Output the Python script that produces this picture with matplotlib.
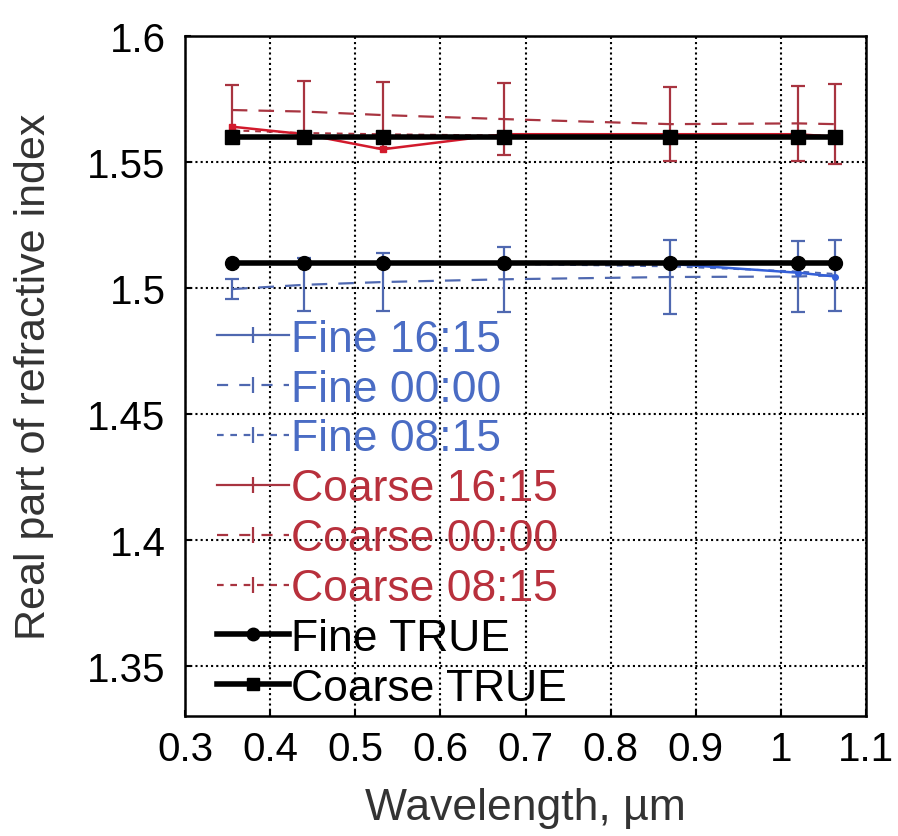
import numpy as np
import matplotlib
matplotlib.use("Agg")
import matplotlib.pyplot as plt
from matplotlib.lines import Line2D

plt.rcParams['font.family'] = ['Liberation Sans', 'DejaVu Sans']

# wavelengths (um)
wl = [0.355, 0.440, 0.532, 0.675, 0.870, 1.020, 1.064]

# fine mode
fine_true = [1.51, 1.51, 1.51, 1.51, 1.51, 1.51, 1.51]
fine_1615 = [1.510, 1.510, 1.510, 1.510, 1.5095, 1.506, 1.5045]
fine_0000 = [1.4995, 1.5012, 1.5023, 1.5034, 1.5043, 1.5045, 1.505]
fine_0815 = [1.5095, 1.5095, 1.5095, 1.5095, 1.5085, 1.5065, 1.5055]
fine_err = [0.004, 0.0105, 0.0115, 0.013, 0.0145, 0.014, 0.014]

# coarse mode
coarse_true = [1.56, 1.56, 1.56, 1.56, 1.56, 1.56, 1.56]
coarse_1615 = [1.564, 1.561, 1.555, 1.561, 1.561, 1.561, 1.560]
coarse_0000 = [1.5706, 1.570, 1.5686, 1.567, 1.565, 1.5653, 1.565]
coarse_0815 = [1.5625, 1.5615, 1.561, 1.5605, 1.5605, 1.5605, 1.5605]
coarse_err = [0.010, 0.012, 0.013, 0.0143, 0.0146, 0.015, 0.016]

labels = ['Fine 16:15', 'Fine 00:00', 'Fine 08:15',
          'Coarse 16:15', 'Coarse 00:00', 'Coarse 08:15',
          'Fine TRUE', 'Coarse TRUE']

blue = '#4f68b0'
blue_txt = '#4a6cc4'
blue_hi = '#3560d8'
red = '#a83440'
red_txt = '#b8303c'
red_hi = '#d21a2c'

fig = plt.figure(figsize=(8.98, 8.37), dpi=100)
ax = fig.add_axes([0.206, 0.1434, 0.7585, 0.8124])

# coloured retrievals
ax.errorbar(wl, coarse_0000, yerr=coarse_err, color=red, lw=1.6,
            dashes=(7, 5), capsize=5, elinewidth=1.6, capthick=1.6, zorder=2)
ax.plot(wl, coarse_0815, color=red, lw=1.4, dashes=(3, 3), zorder=2)
ax.plot(wl, coarse_1615, color=red_hi, lw=1.8, marker='s', ms=4, zorder=3)

ax.errorbar(wl, fine_0000, yerr=fine_err, color=blue, lw=1.6,
            dashes=(7, 5), capsize=5, elinewidth=1.6, capthick=1.6, zorder=2)
ax.plot(wl, fine_0815, color=blue, lw=1.4, dashes=(3, 3), zorder=2)
ax.plot(wl, fine_1615, color=blue_hi, lw=1.8, marker='o', ms=4, zorder=3)

# true values
ax.plot(wl, fine_true, color='black', lw=4, marker='o', ms=10, zorder=4)
ax.plot(wl, coarse_true, color='black', lw=4, marker='s', ms=10, zorder=4)

ax.set_xlim(0.3, 1.1)
ax.set_ylim(1.33, 1.6)
ax.set_xticks(np.arange(0.3, 1.101, 0.1))
ax.set_xticklabels(['0.3', '0.4', '0.5', '0.6', '0.7', '0.8', '0.9', '1', '1.1'])
ax.set_yticks([1.35, 1.4, 1.45, 1.5, 1.55, 1.6])
ax.set_yticklabels(['1.35', '1.4', '1.45', '1.5', '1.55', '1.6'])
ax.tick_params(labelsize=29, direction='in', length=4, width=1.5)
ax.tick_params(axis='y', pad=14)
ax.tick_params(axis='x', pad=10)
ax.grid(True, color='black', ls=(0, (1, 1.5)), lw=1.5)
for s in ax.spines.values():
    s.set_linewidth(1.8)

ax.set_xlabel('Wavelength, \u00b5m', fontsize=32, color='#333333', labelpad=14)
ax.set_ylabel('Real part of refractive index', fontsize=31, color='#333333', labelpad=24)

handles = [
    Line2D([], [], color=blue, lw=1.6, marker='|', ms=12, mew=1.6),
    Line2D([], [], color=blue, lw=1.6, dashes=(5, 5), marker='|', ms=12, mew=1.6),
    Line2D([], [], color=blue, lw=1.6, dashes=(3, 3), marker='|', ms=12, mew=1.6),
    Line2D([], [], color=red, lw=1.6, marker='|', ms=12, mew=1.6),
    Line2D([], [], color=red, lw=1.6, dashes=(5, 5), marker='|', ms=12, mew=1.6),
    Line2D([], [], color=red, lw=1.6, dashes=(3, 3), marker='|', ms=12, mew=1.6),
    Line2D([], [], color='black', lw=4, marker='o', ms=9),
    Line2D([], [], color='black', lw=4, marker='s', ms=9),
]
leg = ax.legend(handles, labels, loc='upper left', bbox_to_anchor=(0.015, 0.617),
                frameon=False, fontsize=32, handlelength=1.6, handletextpad=0.05,
                labelspacing=0.20, borderpad=0, numpoints=1,
                labelcolor=[blue_txt] * 3 + [red_txt] * 3 + ['black'] * 2)

fig.savefig('out.png', dpi=100)
